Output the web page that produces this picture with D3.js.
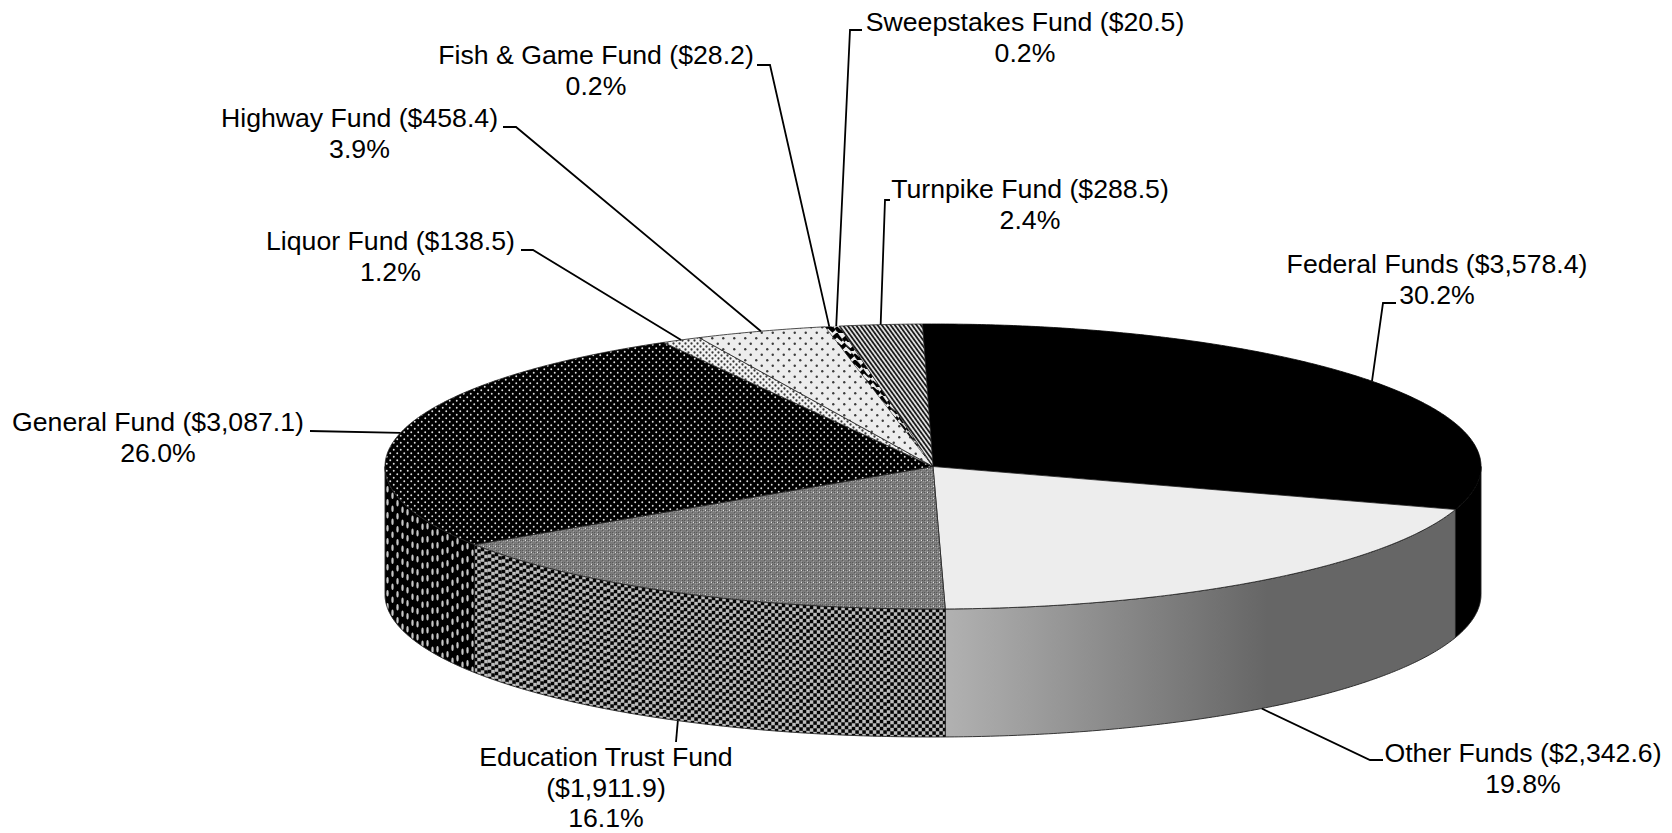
<!DOCTYPE html>
<html>
<head>
<meta charset="utf-8">
<title>Funding sources</title>
<script src="https://cdnjs.cloudflare.com/ajax/libs/d3/7.8.5/d3.min.js"></script>
<style>
  html, body { margin: 0; background: #fff; }
  svg { display: block; }
  text { font-family: "Liberation Sans", Arial, sans-serif; font-size: 26.67px; fill: #000; }
</style>
</head>
<body>
<svg id="chart" width="1672" height="833"></svg>
<script>
// Fund names, amounts ($ millions) and printed shares, clockwise from twelve o'clock
const funds = ["Federal Funds", "Other Funds", "Education Trust Fund", "General Fund", "Liquor Fund",
               "Highway Fund", "Fish & Game Fund", "Sweepstakes Fund", "Turnpike Fund"];
const amounts = [3578.4, 2342.6, 1911.9, 3087.1, 138.5, 458.4, 28.2, 20.5, 288.5];
const shares = ["30.2%", "19.8%", "16.1%", "26.0%", "1.2%", "3.9%", "0.2%", "0.2%", "2.4%"];

// Fill of each slice's top face
const topFills = ["#000", "#ededed", "url(#eduTop)", "url(#generalTop)", "url(#liquorTop)",
                  "url(#highwayTop)", "url(#fishTop)", "url(#sweepTop)", "url(#turnpikeTop)"];

// Label placement: text centre, first baseline, line gap, leader elbow, leader end
const labelCx = [1437, 1523, 606, 158, 390.5, 359.5, 596, 1025, 1030];
const labelY = [273, 762, 766, 431, 250, 127, 64, 31, 198];
const labelGap = [31, 31, 30.5, 31, 31, 31, 31, 31, 31];
const elbowX = [1383, 1370, 676, 310, 533, 516, 770, 850, 885];
const elbowY = [303, 760, 742, 431, 250, 127, 65, 30, 200];
const stubX = [1396, 1383, 676, 310, 521, 503, 757, 862, 890];

const cx = 933, cy = 466.5, rx = 548, ry = 142.5, depth = 128;
const startDeg = -1.1;

const svg = d3.select("#chart");
const defs = svg.append("defs");

const xScale = d3.scaleLinear().domain([-1, 1]).range([cx - rx, cx + rx]);
const yScale = d3.scaleLinear().domain([-1, 1]).range([cy - ry, cy + ry]);
const rim = a => [xScale(Math.sin(a)), yScale(-Math.cos(a))];

const pie = d3.pie().sort(null).value(d => d)
  .startAngle(startDeg * Math.PI / 180)
  .endAngle(startDeg * Math.PI / 180 + 2 * Math.PI);
const slices = pie(amounts);

// Tile helper for the two-tone print patterns
function tile(id, w, h, bg, attrs) {
  const p = defs.append("pattern").attr("id", id).attr("patternUnits", "userSpaceOnUse")
    .attr("width", w).attr("height", h);
  if (attrs) p.attr("patternTransform", attrs);
  p.append("rect").attr("width", w).attr("height", h).attr("fill", bg);
  return p;
}
function dots(p, list, r, fill, ryy) {
  p.selectAll(null).data(list).join("ellipse")
    .attr("cx", d => d[0]).attr("cy", d => d[1]).attr("rx", r).attr("ry", ryy || r).attr("fill", fill);
}
function squares(p, list, s, fill) {
  p.selectAll(null).data(list).join("rect")
    .attr("x", d => d[0]).attr("y", d => d[1]).attr("width", s).attr("height", s).attr("fill", fill);
}

dots(tile("generalTop", 7, 7, "#000"), [[1.75, 1.75], [5.25, 5.25]], 0.95, "#e0e0e0");
dots(tile("generalWall", 10, 13, "#000"), [[2.5, 3.25], [7.5, 9.75]], 1.15, "#c8c8c8", 3.2);
dots(tile("liquorTop", 6, 6, "#f2f2f2"), [[1.5, 1.5], [4.5, 4.5]], 1.15, "#3a3a3a");
dots(tile("highwayTop", 11, 11, "#ededed"), [[2.75, 2.75], [8.25, 8.25]], 1.2, "#3c3c3c");

const eduTop = tile("eduTop", 6, 6, "#7b7b7b");
squares(eduTop, [[0, 0], [2, 2], [4, 0], [0, 4], [4, 4]], 1, "#5a5a5a");
squares(eduTop, [[1, 1], [3, 3], [5, 1], [1, 5], [3, 5]], 1, "#a0a0a0");
squares(eduTop, [[3, 0]], 1, "#e0e0e0");

const eduWall = tile("eduWall", 7, 7, "#6f6f6f");
squares(eduWall, [[0, 0], [3.5, 3.5]], 3.2, "#050505");
squares(eduWall, [[3.5, 0], [0, 3.5]], 3, "#bdbdbd");

const stripes = tile("turnpikeTop", 3.5, 10, "#e4e4e4", "rotate(-36)");
stripes.append("rect").attr("width", 1.8).attr("height", 10).attr("fill", "#1c1c1c");

const fish = tile("fishTop", 9, 9, "#eee");
fish.append("path").attr("d", "M-1 1 L4.5 6 L10 1").attr("fill", "none").attr("stroke", "#000").attr("stroke-width", 4);
const sweep = tile("sweepTop", 9, 9, "#eee");
sweep.append("path").attr("d", "M-1 4 L4.5 9 L10 4").attr("fill", "none").attr("stroke", "#000").attr("stroke-width", 4);

const otherGrad = defs.append("linearGradient").attr("id", "otherWall")
  .attr("gradientUnits", "userSpaceOnUse").attr("x1", 943).attr("x2", 1267).attr("y1", 0).attr("y2", 0);
otherGrad.append("stop").attr("offset", 0).attr("stop-color", "#b2b2b2");
otherGrad.append("stop").attr("offset", 1).attr("stop-color", "#666");

const outline = d3.line();
const arcPoints = (a0, a1) => {
  const n = Math.max(2, Math.ceil((a1 - a0) * 120));
  return d3.range(n + 1).map(i => rim(a0 + (a1 - a0) * i / n));
};

// Outer walls: only the part of the rim facing the viewer is drawn
const frontA = Math.PI / 2, frontB = 3 * Math.PI / 2;
const walls = slices.map((s, i) => {
  const a0 = Math.max(s.startAngle, frontA), a1 = Math.min(s.endAngle, frontB);
  if (a1 <= a0) return null;
  const upper = arcPoints(a0, a1);
  const lower = upper.map(p => [p[0], p[1] + depth]).reverse();
  return { i, a0, a1, d: outline(upper.concat(lower)) + "Z", upper };
}).filter(Boolean);

const wallLayer = svg.append("g");

// The printed walls keep their pattern rows following the rim, tile column by tile column
function curvedWall(w, patternId, tw, th) {
  const clipId = "clip-" + patternId;
  defs.append("clipPath").attr("id", clipId).append("path").attr("d", w.d);
  const xs = w.upper.map(p => p[0]);
  const x0 = Math.floor(d3.min(xs)), x1 = Math.ceil(d3.max(xs));
  const g = wallLayer.append("g").attr("clip-path", `url(#${clipId})`);
  g.selectAll("rect").data(d3.range(x0, x1, tw)).join("rect")
    .attr("width", tw).attr("height", depth + 3 * th)
    .attr("shape-rendering", "crispEdges")
    .attr("fill", `url(#${patternId})`)
    .attr("transform", x => {
      const t = (x + tw / 2 - cx) / rx;
      const y = cy + ry * Math.sqrt(Math.max(0, 1 - t * t));
      return `translate(${x},${Math.round(y) - th})`;
    });
}

walls.forEach(w => {
  if (w.i === 2) curvedWall(w, "eduWall", 7, 7);
  else if (w.i === 3) curvedWall(w, "generalWall", 10, 13);
  else wallLayer.append("path").attr("d", w.d).attr("fill", w.i === 1 ? "url(#otherWall)" : "#000");
  wallLayer.append("path").attr("d", w.d).attr("fill", "none").attr("stroke", "#222").attr("stroke-width", 0.9);
});

// Top faces; the hairline slices carry almost no outline so their chevrons stay visible
svg.append("g").selectAll("path").data(slices).join("path")
  .attr("d", s => outline([[cx, cy]].concat(arcPoints(s.startAngle, s.endAngle))) + "Z")
  .attr("fill", (s, i) => topFills[i])
  .attr("stroke", (s, i) => i === 0 ? "#000" : "#222")
  .attr("stroke-width", (s, i) => (i === 6 || i === 7) ? 0.2 : 0.8)
  .attr("stroke-linejoin", "round");

// Leaders run from each slice's mid-angle on the rim to the elbow and on to the label
const midAngle = s => (s.startAngle + s.endAngle) / 2;
const leaderStart = s => {
  const m = midAngle(s), p = rim(m);
  return [p[0], Math.cos(m) < 0 ? p[1] + depth : p[1]];
};
svg.append("g").selectAll("path").data(slices).join("path")
  .attr("fill", "none").attr("stroke", "#000").attr("stroke-width", 1.8)
  .attr("d", (s, i) => outline([leaderStart(s), [elbowX[i], elbowY[i]], [stubX[i], elbowY[i]]]));

// Labels: name and amount share a line except for the long education label
const money = d3.format("$,.1f");
const lines = i => {
  const amt = `(${money(amounts[i])})`;
  return i === 2 ? [funds[i], amt, shares[i]] : [`${funds[i]} ${amt}`, shares[i]];
};
const labels = svg.append("g").selectAll("text").data(funds).join("text")
  .attr("text-anchor", "middle")
  .attr("x", (d, i) => labelCx[i]).attr("y", (d, i) => labelY[i]);
labels.selectAll("tspan").data((d, i) => lines(i).map(t => ({ t, i }))).join("tspan")
  .attr("x", d => labelCx[d.i])
  .attr("dy", (d, j) => j === 0 ? 0 : labelGap[d.i])
  .text(d => d.t);
</script>
</body>
</html>
